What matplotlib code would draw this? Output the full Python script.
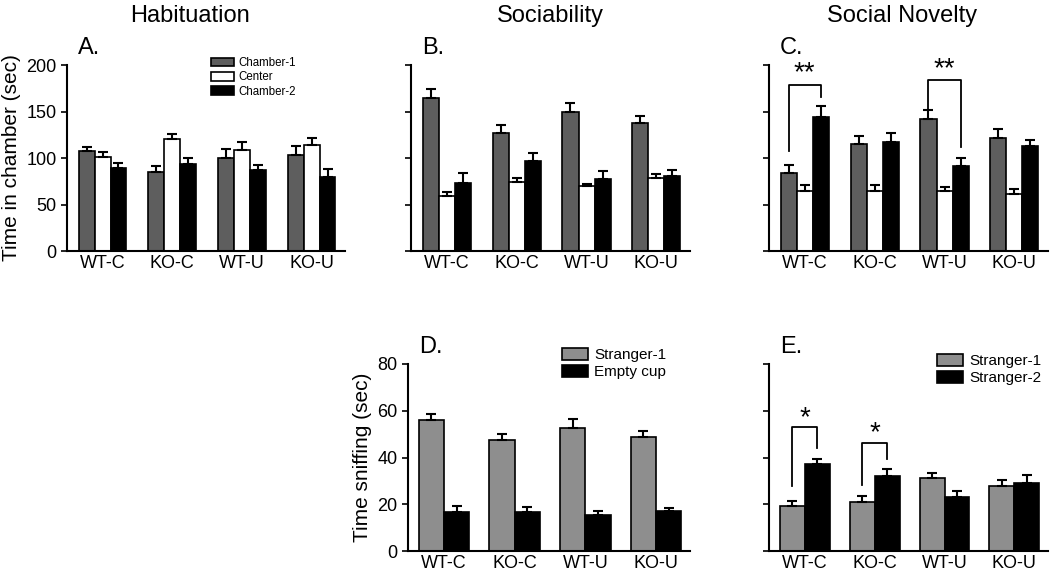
"""Three-chamber test: habituation, sociability, social novelty."""

import matplotlib

matplotlib.use("Agg")
import matplotlib.pyplot as plt
import numpy as np

plt.rcParams["font.family"] = ["Liberation Sans", "DejaVu Sans"]

groups = ["WT-C", "KO-C", "WT-U", "KO-U"]

# chamber time (sec): Chamber-1, Center, Chamber-2
hab_ch1 = [108, 85, 100, 103.5]
hab_ch1_err = [4, 6, 10, 9.5]
hab_ctr = [101.5, 120, 109, 114]
hab_ctr_err = [4.5, 6, 8, 8]
hab_ch2 = [89, 93.5, 87, 80]
hab_ch2_err = [6, 6.5, 6, 8]

soc_ch1 = [165, 126.5, 150, 138]
soc_ch1_err = [9, 9.5, 9, 7]
soc_ctr = [59, 74, 70, 78]
soc_ctr_err = [4, 5, 2, 5]
soc_ch2 = [73.5, 97, 77.5, 81]
soc_ch2_err = [10, 8.5, 8, 6]

nov_ch1 = [84, 115, 142, 121.5]
nov_ch1_err = [9, 9, 9.5, 9.5]
nov_ctr = [65, 64, 65, 61.5]
nov_ctr_err = [6, 6.5, 4, 5.5]
nov_ch2 = [144, 117.5, 91, 113]
nov_ch2_err = [12, 9, 9, 6]

# sniffing time (sec)
sniff_s1 = [56, 47.5, 52.8, 48.6]
sniff_s1_err = [2.6, 2.5, 3.6, 2.7]
sniff_empty = [16.5, 16.5, 15.5, 17]
sniff_empty_err = [2.7, 2.5, 1.5, 1.5]

nov_s1 = [19.3, 20.8, 31.2, 27.8]
nov_s1_err = [2.1, 2.9, 2.3, 2.6]
nov_s2 = [37.4, 32, 23.2, 29.2]
nov_s2_err = [2.1, 3, 2.6, 3.2]

DARK = "#5e5e5e"
LIGHT = "#8e8e8e"

W, H = 1050, 574
fig = plt.figure(figsize=(W / 100, H / 100), dpi=100)


def make_ax(x0, x1, ytop, ybot):
    return fig.add_axes([x0 / W, 1 - ybot / H, (x1 - x0) / W, (ybot - ytop) / H])


def style(ax, ylim, yticks, show_labels):
    ax.set_xlim(-0.51, 3.48)
    ax.set_ylim(*ylim)
    ax.set_yticks(yticks)
    if not show_labels:
        ax.set_yticklabels([])
    ax.set_xticks(np.arange(4))
    ax.set_xticklabels(groups, fontsize=13)
    ax.tick_params(axis="x", length=0, pad=3)
    ax.tick_params(axis="y", labelsize=13, length=4, width=1.2, direction="out")
    for s in ["top", "right"]:
        ax.spines[s].set_visible(False)
    for s in ["left", "bottom"]:
        ax.spines[s].set_linewidth(1.5)


def bars(ax, offset, width, vals, errs, color, label):
    x = np.arange(4) + offset
    return ax.bar(x, vals, width, color=color, edgecolor="black", linewidth=1.2,
                  yerr=[np.zeros(4), errs], capsize=3.5,
                  error_kw=dict(elinewidth=1.5, capthick=1.5, ecolor="black"),
                  label=label, zorder=2)


def three(ax, c1, e1, cc, ec, c2, e2):
    w = 0.229
    h1 = bars(ax, -w, w, c1, e1, DARK, "Chamber-1")
    h2 = bars(ax, 0, w, cc, ec, "white", "Center")
    h3 = bars(ax, w, w, c2, e2, "black", "Chamber-2")
    return [h1, h2, h3]


def bracket(ax, x0, x1, y0, ytop, y1, text, ty):
    ax.plot([x0, x0, x1, x1], [y0, ytop, ytop, y1], color="black", lw=1.3)
    ax.text((x0 + x1) / 2, ty, text, ha="center", va="center", fontsize=20)


def small_legend(ax, handles, x, y, size, hlen):
    ax.legend(handles=handles, loc="upper left", bbox_to_anchor=(x / W, 1 - y / H),
              bbox_transform=fig.transFigure, frameon=False, fontsize=size,
              handlelength=hlen, handleheight=0.8, labelspacing=0.2, borderpad=0,
              handletextpad=0.4, borderaxespad=0)


# top row
axA = make_ax(67, 345, 65, 251)
hA = three(axA, hab_ch1, hab_ch1_err, hab_ctr, hab_ctr_err, hab_ch2, hab_ch2_err)
style(axA, (0, 200), [0, 50, 100, 150, 200], True)
axA.set_ylabel("Time in chamber (sec)", fontsize=15, labelpad=4)
small_legend(axA, hA, 211, 57, 8.3, 2.0)

axB = make_ax(411, 690, 65, 251)
three(axB, soc_ch1, soc_ch1_err, soc_ctr, soc_ctr_err, soc_ch2, soc_ch2_err)
style(axB, (0, 200), [0, 50, 100, 150, 200], False)

axC = make_ax(769, 1048, 65, 251)
three(axC, nov_ch1, nov_ch1_err, nov_ctr, nov_ctr_err, nov_ch2, nov_ch2_err)
style(axC, (0, 200), [0, 50, 100, 150, 200], False)
bracket(axC, -0.229, 0.229, 108, 179, 166, "**", 191)
bracket(axC, 2 - 0.229, 2 + 0.229, 153, 184, 112, "**", 195)

# bottom row
axD = make_ax(408, 690, 364, 551)
w2 = 0.357
hD1 = bars(axD, -w2 / 2, w2, sniff_s1, sniff_s1_err, LIGHT, "Stranger-1")
hD2 = bars(axD, w2 / 2, w2, sniff_empty, sniff_empty_err, "black", "Empty cup")
style(axD, (0, 80), [0, 20, 40, 60, 80], True)
axD.set_ylabel("Time sniffing (sec)", fontsize=15, labelpad=4)
small_legend(axD, [hD1, hD2], 562, 348, 11, 1.7)

axE = make_ax(769, 1048, 364, 551)
hE1 = bars(axE, -w2 / 2, w2, nov_s1, nov_s1_err, LIGHT, "Stranger-1")
hE2 = bars(axE, w2 / 2, w2, nov_s2, nov_s2_err, "black", "Stranger-2")
style(axE, (0, 80), [0, 20, 40, 60, 80], False)
small_legend(axE, [hE1, hE2], 937, 354, 11, 1.7)
bracket(axE, -w2 / 2, w2 / 2, 28, 53, 44.2, "*", 57)
bracket(axE, 1 - w2 / 2, 1 + w2 / 2, 28.3, 46.3, 39.4, "*", 50.5)

# panel letters and column titles
for ax, letter in [(axA, "A."), (axB, "B."), (axC, "C."), (axD, "D."), (axE, "E.")]:
    ax.text(0.04, 1.03, letter, transform=ax.transAxes, fontsize=17, va="bottom")

fig.text(190 / W, 1 - 16 / H, "Habituation", ha="center", va="center", fontsize=17)
fig.text(550 / W, 1 - 16 / H, "Sociability", ha="center", va="center", fontsize=17)
fig.text(902 / W, 1 - 16 / H, "Social Novelty", ha="center", va="center", fontsize=17)

fig.savefig("out.png", dpi=100)
